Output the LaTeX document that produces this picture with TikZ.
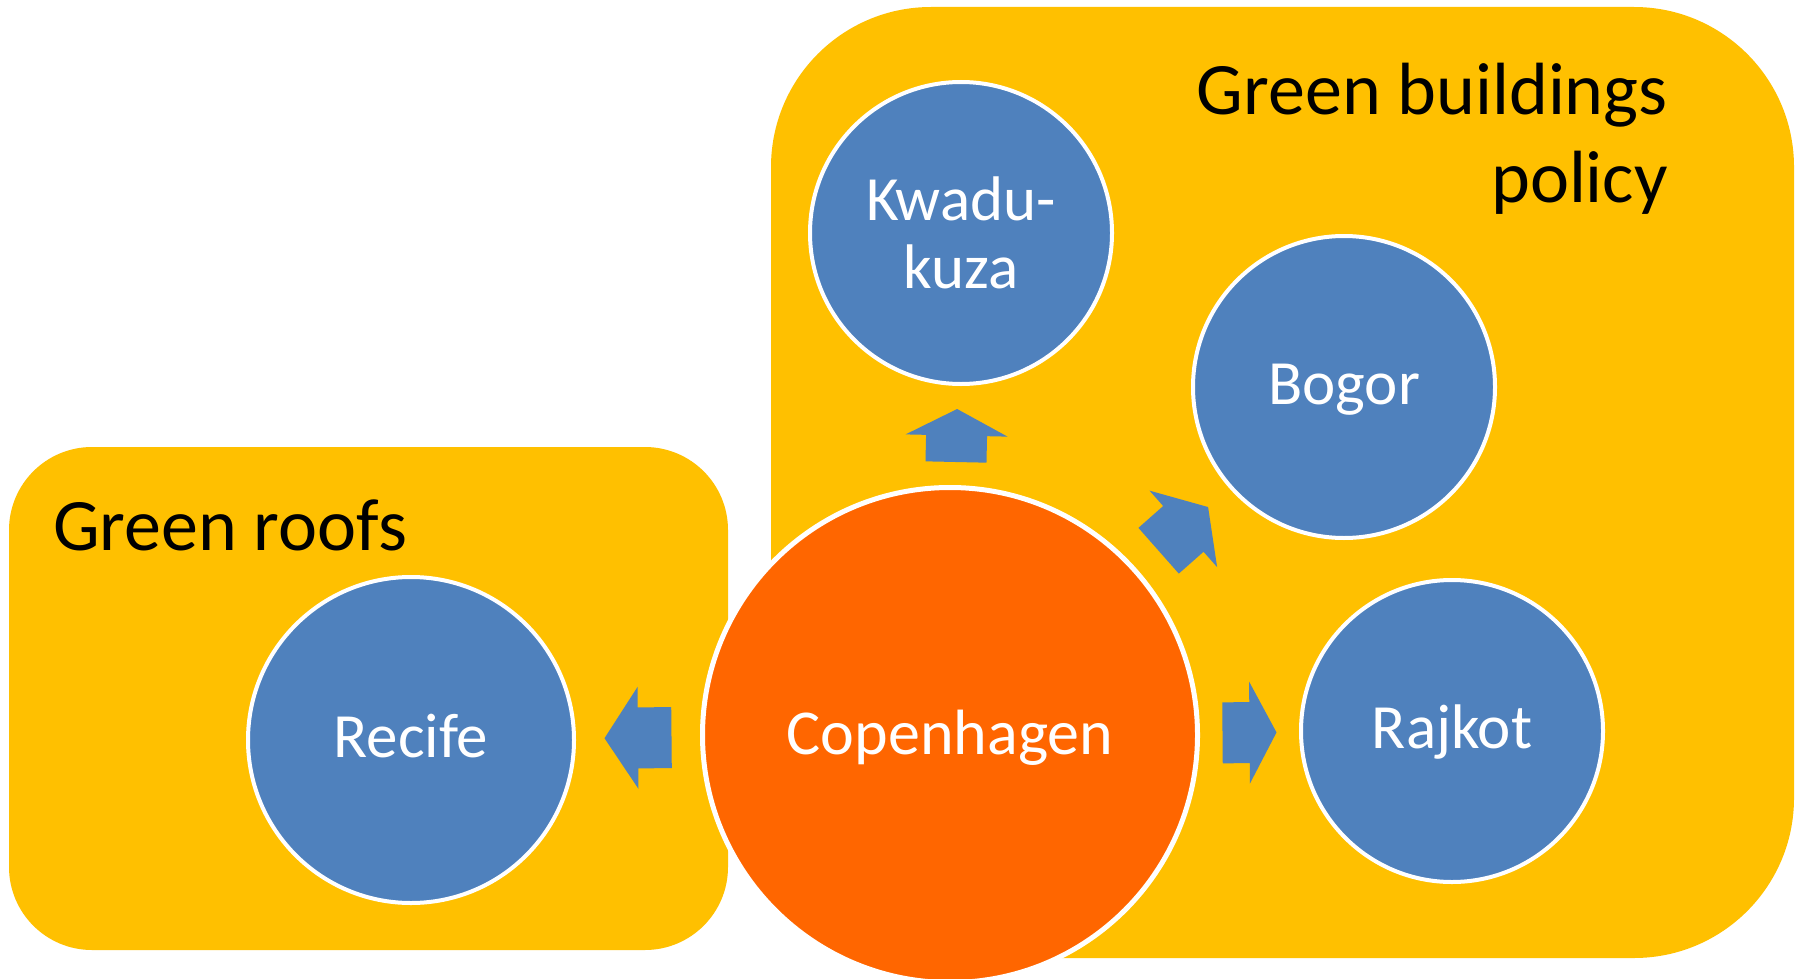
\documentclass[tikz,border=0pt]{standalone}
\usepackage{fontspec}
\setmainfont{Carlito}
\usetikzlibrary{calc}
\definecolor{panelyellow}{HTML}{FFC000}
\definecolor{cityblue}{HTML}{4F81BD}
\definecolor{huborange}{HTML}{FF6600}
\begin{document}
\begin{tikzpicture}[x=1pt,y=-1pt,
  panel/.style={fill=panelyellow, draw=none, inner sep=0pt, outer sep=0pt},
  paneltitle/.style={font=\fontsize{74}{88}\selectfont, inner sep=0pt, text=black},
  city/.style={circle, fill=cityblue, draw=white, line width=4pt,
    minimum size=#1, inner sep=0pt, text=white,
    font=\fontsize{63}{68}\selectfont, align=center},
  oneline/.style={text height=46pt, text depth=12pt},
  hub/.style={circle, fill=huborange, draw=white, line width=5pt,
    minimum size=495pt, inner sep=0pt, text=white,
    font=\fontsize{64}{70}\selectfont, text height=50pt, text depth=12pt},
  pics/blockarrow/.style={code={
    \fill[cityblue] (-#1/2,-30.5) -- (0,-30.5) -- (0,-51) -- (#1/2,0)
      -- (0,51) -- (0,30.5) -- (-#1/2,30.5) -- cycle;}}
]
\useasboundingbox (0,0) rectangle (1806,979);
\fill[white] (0,0) rectangle (1806,979);

% group panels
\node[panel, rounded corners=83pt, minimum width=719pt, minimum height=503pt,
  anchor=north west] (roofs) at (9,447) {};
\node[panel, rounded corners=160pt, minimum width=1023pt, minimum height=951pt,
  anchor=north west] (bldg) at (771,7) {};

\node[paneltitle, anchor=base west] (roofstitle) at (53,550) {Green roofs};
\node[paneltitle, anchor=base east, align=right] (bldgtitle) at (1668,202)
  {Green buildings\\policy};

% cities
\node[hub] (cph) at (950,735) {Copenhagen};
\node[city=302pt] (kwa) at (961,233) {Kwadu-\\kuza};
\node[city=302pt, oneline] (bog) at (1344,387) {Bogor};
\node[city=302pt, oneline] (raj) at (1452,731) {Rajkot};
\node[city=326pt, oneline] (rec) at (411,740) {Recife};

% block arrows, centred in the gap between the hub and each city
\path let \p1=($(cph)!250pt!(kwa)$), \p2=($(kwa)!153pt!(cph)$),
  \n1={atan2(\y2-\y1,\x2-\x1)} in
  pic[rotate=\n1] at ($(\p1)!0.5!(\p2)$) {blockarrow=53};
\path let \p1=($(cph)!250pt!(bog)$), \p2=($(bog)!153pt!(cph)$),
  \n1={atan2(\y2-\y1,\x2-\x1)} in
  pic[rotate=\n1] at ($(\p1)!0.5!(\p2)$) {blockarrow=66};
\path let \p1=($(cph)!250pt!(raj)$), \p2=($(raj)!153pt!(cph)$),
  \n1={atan2(\y2-\y1,\x2-\x1)} in
  pic[rotate=\n1] at ($(\p1)!0.5!(\p2)$) {blockarrow=54};
\path let \p1=($(cph)!250pt!(rec)$), \p2=($(rec)!165pt!(cph)$),
  \n1={atan2(\y2-\y1,\x2-\x1)} in
  pic[rotate=\n1] at ($(\p1)!0.5!(\p2)$) {blockarrow=67};
\end{tikzpicture}
\end{document}
